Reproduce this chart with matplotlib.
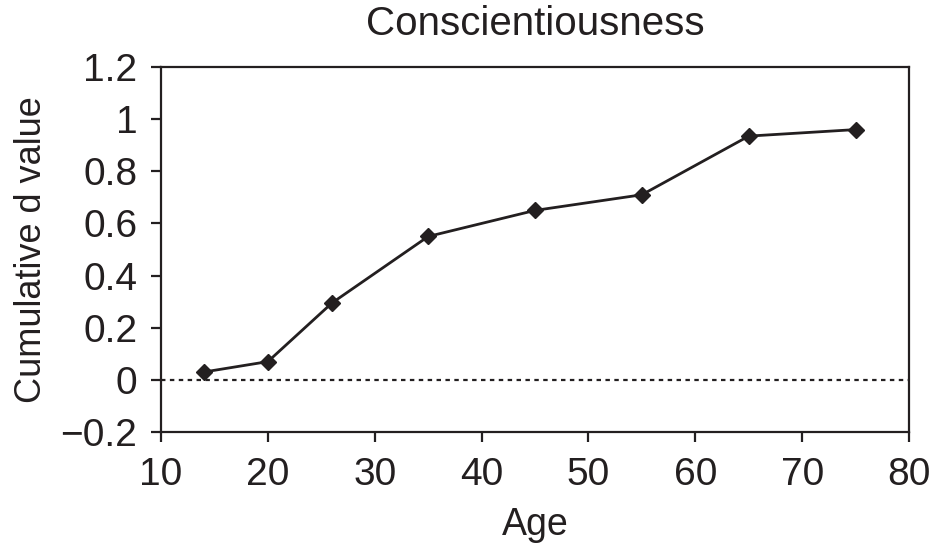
import matplotlib

matplotlib.use("Agg")

import matplotlib.pyplot as plt  # noqa: E402

plt.rcParams["font.family"] = ["Liberation Sans", "DejaVu Sans"]

# Values
ages = [14, 20, 26, 35, 45, 55, 65, 75]
cumulative_d = [0.03, 0.07, 0.295, 0.55, 0.65, 0.71, 0.935, 0.96]
x_ticks = [10, 20, 30, 40, 50, 60, 70, 80]
y_ticks = [-0.2, 0, 0.2, 0.4, 0.6, 0.8, 1.0, 1.2]
y_tick_labels = ["\u22120.2", "0", "0.2", "0.4", "0.6", "0.8", "1", "1.2"]

INK = "#231f20"

fig = plt.figure(figsize=(9.33, 5.48), dpi=100)
ax = fig.add_axes([0.1726, 0.2117, 0.8017, 0.666])

ax.axhline(0, color=INK, linewidth=1.6, linestyle=(0, (2, 2)), zorder=1)
ax.plot(ages, cumulative_d, color=INK, linewidth=2.0, marker="D",
        markersize=8, zorder=3)

ax.set_xlim(10, 80)
ax.set_ylim(-0.2, 1.2)
ax.set_xticks(x_ticks)
ax.set_yticks(y_ticks)
ax.set_yticklabels(y_tick_labels)
ax.tick_params(direction="out", length=7, width=1.6, colors=INK,
               labelsize=28)
ax.tick_params(axis="x", pad=11)
ax.tick_params(axis="y", pad=10)
for spine in ax.spines.values():
    spine.set_linewidth(1.6)
    spine.set_color(INK)

ax.set_xlabel("Age", fontsize=27, color=INK, labelpad=10)
ax.set_ylabel("Cumulative d value", fontsize=26, color=INK, labelpad=8)
ax.set_title("Conscientiousness", fontsize=29, color=INK, pad=23)

fig.savefig("out.png", dpi=100)
plt.close(fig)
